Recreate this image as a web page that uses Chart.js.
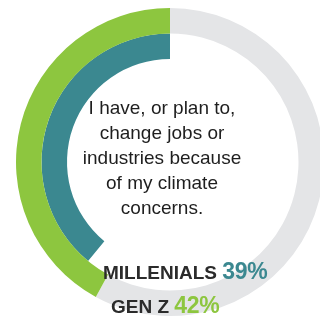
<!DOCTYPE html>
<html>
<head>
<meta charset="utf-8">
<script src="https://cdn.jsdelivr.net/npm/chart.js@4"></script>
<style>
  html, body { margin: 0; padding: 0; width: 320px; height: 320px; overflow: hidden; background: #fff; }
  #ring { position: absolute; left: 10px; top: 2px; }
  .center { position: absolute; left: 60px; top: 95px; width: 204px; text-align: center;
    font-family: "Liberation Sans", Arial, sans-serif; font-size: 19px; line-height: 25px; color: #1e1e1e; }
  .lbl { position: absolute; font-family: "Liberation Sans", Arial, sans-serif; font-weight: bold;
    font-size: 19px; color: #2b2b2b; white-space: nowrap; line-height: 24px; }
  .lbl span { font-size: 23px; letter-spacing: -0.3px; }
</style>
</head>
<body>
<canvas id="ring" width="320" height="320"></canvas>
<div class="center">I have, or plan to,<br>change jobs or<br>industries because<br>of my climate<br>concerns.</div>
<div class="lbl" id="lbl0" style="left:103px; top:259px;"></div>
<div class="lbl" id="lbl1" style="left:111px; top:293px;"></div>
<script>
// Datos del gráfico
const groups = ['MILLENIALS', 'GEN Z'];
const shares = [39, 42];           // porcentaje que dice sí
const groupColors = ['#3b8890', '#8dc63f'];
const restColors = ['rgba(0,0,0,0)', '#e4e5e7'];

// Etiquetas de abajo
groups.forEach((g, i) => {
    const el = document.getElementById('lbl' + i);
    el.innerHTML = `${g} <span style="color:${groupColors[i]}">${shares[i]}%</span>`;
});

// El anillo externo es GEN Z, el interno MILLENIALS
// (se dibuja el resto primero para que el color vaya en sentido antihorario desde arriba)
const order = [1, 0];
const ctx = document.getElementById('ring').getContext('2d');
new Chart(ctx, {
    type: 'doughnut',
    data: {
        labels: ['resto', 'sí'],
        datasets: order.map(i => ({
            label: groups[i],
            data: [100 - shares[i], shares[i]],
            backgroundColor: [restColors[i], groupColors[i]],
            borderWidth: 0
        }))
    },
    options: {
        responsive: false,
        animation: false,
        radius: 154,
        cutout: 107,
        plugins: {
            legend: { display: false },
            tooltip: { enabled: false }
        }
    }
});
</script>
</body>
</html>
